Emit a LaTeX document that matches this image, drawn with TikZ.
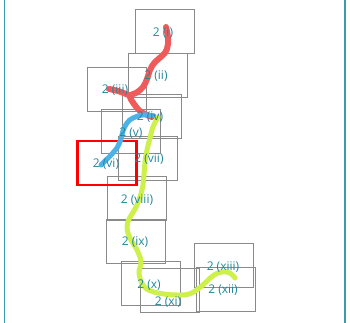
\documentclass[tikz,border=0pt]{standalone}
\usepackage{fontspec}
\setmainfont{Open Sans}
\definecolor{framecol}{HTML}{3A9AAE}
\definecolor{labelcol}{HTML}{24869A}
\definecolor{pagecol}{HTML}{8A8A8A}
\definecolor{redstroke}{HTML}{EF5B5B}
\definecolor{bluestroke}{HTML}{4DB3E6}
\definecolor{greenstroke}{HTML}{CDF04A}
\begin{document}
\begin{tikzpicture}[
x=1pt,y=-1pt,
page/.style={
    rectangle,
    draw=pagecol,
    line width=0.8pt,
    minimum width=59pt,
    minimum height=44pt,
    inner sep=0pt
},
lbl/.style={
    text=labelcol,
    font=\fontsize{12}{14}\selectfont,
    inner sep=0pt
},
stroke/.style={line width=#1, line cap=round, line join=round},
redline/.style={stroke=6pt, draw=redstroke},
blueline/.style={stroke=5pt, draw=bluestroke},
greenline/.style={stroke=5pt, draw=greenstroke}
]
\useasboundingbox (0,0) rectangle (350,323);

%---------------- Frame ----------------
\draw[framecol, line width=1.5pt] (4.5,0) -- (4.5,323);
\draw[framecol, line width=1.5pt] (345,0) -- (345,323);

%---------------- Pages ----------------
\node[page] (p1) at (165,31) {};
\node[page] (p2) at (157.5,75) {};
\node[page] (p3) at (117,89) {};
\node[page] (p4) at (151.5,116) {};
\node[page] (p5) at (131,131) {};
\node[page] (p6) at (107,163) {};
\node[page] (p7) at (148,158.5) {};
\node[page] (p8) at (137,198.5) {};
\node[page] (p9) at (136,241.5) {};
\node[page] (p10) at (150.5,283.5) {};
\node[page] (p11) at (169.5,290.5) {};
\node[page] (p13) at (224,265.5) {};
\node[page] (p12) at (226,289.5) {};

\node[page, draw=red, line width=2.5pt] (hl) at (p6) {};

%---------------- Strokes ----------------
\draw[redline] plot[smooth, tension=0.7] coordinates {(166,27) (168,38) (167,49) (162,56) (155,62) (150,70) (147,79) (143,87) (136,93) (130,96) (134,104) (140,111) (147,115) (152,117)};
\draw[redline] plot[smooth, tension=0.7] coordinates {(109,89) (118,91) (126,94) (131,96)};
\draw[blueline] plot[smooth, tension=0.7] coordinates {(154,116) (143,115) (133,118) (127,123) (123,131) (121,139) (117,148) (112,154) (106,160) (101,165)};
\draw[greenline] plot[smooth, tension=0.7] coordinates {(158,117) (153,127) (150,138) (147,150) (145,162) (144,175) (143,185) (140,197) (135,209) (129,219) (127,228) (130,238) (137,250) (141,262) (139,273) (143,285) (151,291) (164,294) (177,295) (189,294) (198,289) (206,282) (214,275) (222,272) (230,273) (235,278)};

%---------------- Labels ----------------
\node[lbl] (l1) at (163,33) {2 (i)};
\node[lbl] (l2) at (156,76) {2 (ii)};
\node[lbl] (l3) at (115,90) {2 (iii)};
\node[lbl] (l4) at (150,117) {2 (iv)};
\node[lbl] (l5) at (131,133) {2 (v)};
\node[lbl] (l6) at (106,164) {2 (vi)};
\node[lbl] (l7) at (149,159) {2 (vii)};
\node[lbl] (l8) at (137,200) {2 (viii)};
\node[lbl] (l9) at (135,242) {2 (ix)};
\node[lbl] (l10) at (149,285) {2 (x)};
\node[lbl] (l11) at (168,302) {2 (xi)};
\node[lbl] (l12) at (223,290) {2 (xii)};
\node[lbl] (l13) at (223,267) {2 (xiii)};

\end{tikzpicture}
\end{document}
